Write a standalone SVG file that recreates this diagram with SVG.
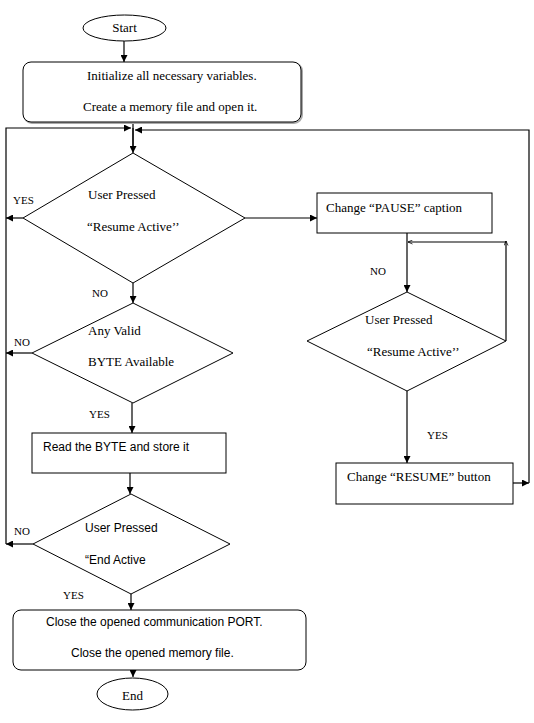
<svg xmlns="http://www.w3.org/2000/svg" width="534" height="723" viewBox="0 0 534 723">
<defs>
<marker id="ah" viewBox="0 0 10 10" refX="10" refY="5" markerWidth="8" markerHeight="7" markerUnits="userSpaceOnUse" orient="auto"><path d="M0,0 L10,5 L0,10 z" fill="#000"/></marker>
<marker id="oh" viewBox="0 0 10 10" refX="10" refY="5" markerWidth="5" markerHeight="5" markerUnits="userSpaceOnUse" orient="auto"><path d="M1,1 L10,5 L1,9" fill="none" stroke="#000" stroke-width="1.5"/></marker>
</defs>
<style>
.s{fill:#fff;stroke:#000;stroke-width:1}
.sh{fill:none;stroke:#aaa;stroke-width:2}
.c{fill:none;stroke:#000;stroke-width:1.2}
.a{marker-end:url(#ah)}
.o{marker-end:url(#oh)}
.t{font-family:"Liberation Serif","Times New Roman",serif;font-size:13px;fill:#000}
.ts{font-family:"Liberation Sans",Arial,sans-serif;font-size:12px;fill:#000}
.lb{font-family:"Liberation Serif","Times New Roman",serif;font-size:11px;fill:#000}
</style>
<rect width="534" height="723" fill="#fff"/>
<g id="connectors">
<line class="c a" x1="124" y1="41" x2="124" y2="62"/>
<line class="c" x1="133" y1="122" x2="133" y2="146"/>
<line class="c a" x1="133" y1="128" x2="133" y2="153"/>
<polyline class="c a" points="6,544 6,128 131,128"/>
<line class="c a" x1="23" y1="218" x2="6" y2="218"/>
<line class="c a" x1="32" y1="353" x2="6" y2="353"/>
<line class="c a" x1="33" y1="544" x2="6" y2="544"/>
<line class="c a" x1="513" y1="483" x2="529" y2="483"/>
<polyline class="c a" points="529,483 529,130 135,130"/>
<line class="c a" x1="133" y1="283" x2="133" y2="303"/>
<line class="c a" x1="245" y1="218" x2="317" y2="218"/>
<line class="c a" x1="407" y1="233" x2="407" y2="292"/>
<line class="c o" x1="506" y1="341" x2="506" y2="241"/>
<line class="c o" x1="506" y1="242" x2="408" y2="242"/>
<line class="c a" x1="407" y1="391" x2="407" y2="463"/>
<line class="c a" x1="132" y1="403" x2="132" y2="433"/>
<line class="c a" x1="130" y1="473" x2="130" y2="494"/>
<line class="c a" x1="131" y1="594" x2="131" y2="610"/>
<line class="c a" x1="133" y1="670" x2="133" y2="677"/>
</g>
<g id="start">
<ellipse class="s" cx="124.5" cy="28" rx="41.5" ry="13"/>
<text class="t" x="124.5" y="31.5" text-anchor="middle" font-size="10">Start</text>
</g>
<g id="init">
<rect class="sh" x="24" y="63" width="278" height="60" rx="8"/>
<rect class="s" x="23" y="62" width="278" height="60" rx="8"/>
<text class="t" x="87" y="80">Initialize all necessary variables.</text>
<text class="t" x="83" y="111">Create a memory file and open it.</text>
</g>
<g id="d1">
<polygon class="s" points="133,153 245,218 133,283 23,218"/>
<text class="t" x="88" y="199">User Pressed</text>
<text class="t" x="87" y="231">“Resume Active’’</text>
<text class="lb" x="13" y="204">YES</text>
<text class="lb" x="92" y="297">NO</text>
</g>
<g id="pause">
<rect class="s" x="317" y="193" width="175" height="40"/>
<text class="t" x="326" y="212">Change “PAUSE” caption</text>
<text class="lb" x="370" y="275">NO</text>
</g>
<g id="d3">
<polygon class="s" points="407,292 506,341 407,391 307,341"/>
<text class="t" x="365" y="324">User Pressed</text>
<text class="t" x="367" y="356">“Resume Active’’</text>
<text class="lb" x="427" y="439">YES</text>
</g>
<g id="resume">
<rect class="s" x="336" y="463" width="177" height="41"/>
<text class="t" x="347" y="481">Change “RESUME” button</text>
</g>
<g id="d2">
<polygon class="s" points="133,303 233,353 133,403 32,353"/>
<text class="t" x="88" y="335">Any Valid</text>
<text class="t" x="88" y="366">BYTE Available</text>
<text class="lb" x="14" y="346">NO</text>
<text class="lb" x="89" y="418">YES</text>
</g>
<g id="read">
<rect class="s" x="32" y="433" width="194" height="40"/>
<text class="ts" x="43" y="451">Read the BYTE and store it</text>
</g>
<g id="d4">
<polygon class="s" points="131,494 230,544 131,594 33,544"/>
<text class="ts" x="85" y="532" font-size="11.5">User Pressed</text>
<text class="ts" x="85" y="564" font-size="11.5">“End Active</text>
<text class="lb" x="14" y="535">NO</text>
<text class="lb" x="63" y="599">YES</text>
</g>
<g id="close">
<rect class="s" x="13" y="610" width="293" height="60" rx="8"/>
<text class="ts" x="46" y="626" font-size="11">Close the opened communication PORT.</text>
<text class="ts" x="71" y="657" font-size="11">Close the opened memory file.</text>
</g>
<g id="end">
<ellipse class="s" cx="132.5" cy="694" rx="35.5" ry="16"/>
<text class="t" x="132.5" y="700" text-anchor="middle" font-size="11">End</text>
</g>
</svg>
